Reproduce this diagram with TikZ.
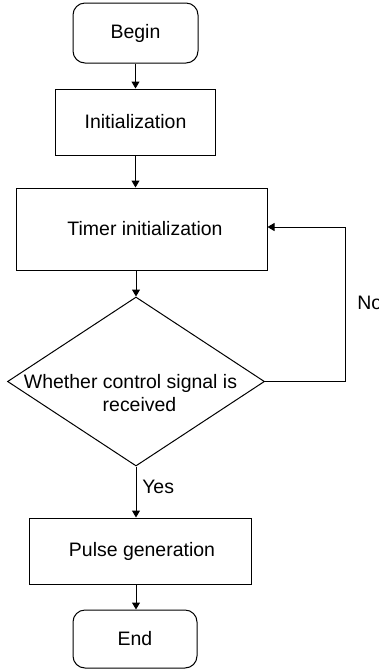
\documentclass[tikz,border=0pt]{standalone}
\usepackage{fontspec}
\setmainfont{Liberation Sans}
\usetikzlibrary{shapes.geometric,arrows.meta}
\newdimen\pxu
\pxu=0.75pt
\begin{document}
\begin{tikzpicture}[x=0.75pt,y=-0.75pt,
  every node/.style={font=\fontsize{14.6}{17.3}\selectfont, text=black},
  box/.style={draw=black, line width=0.75pt, inner sep=0pt},
  termbox/.style={box, rounded corners=9pt},
  decbox/.style={draw=black, line width=0.75pt, shape=diamond, inner sep=0pt},
  lbl/.style={inner sep=0pt},
  arr/.style={draw=black, line width=0.75pt, -{Triangle[length=5.25pt,width=6pt]}}
]
\useasboundingbox (0,0) rectangle (379,669);
\node[termbox, minimum width=125\pxu, minimum height=60\pxu] (begin) at (135.5,33) {Begin};
\node[box, minimum width=160\pxu, minimum height=66\pxu] (init) at (135.5,122) {Initialization};
\node[box, minimum width=251\pxu, minimum height=82\pxu] (timer) at (141.5,229) {\hspace*{7\pxu}Timer initialization};
\node[decbox, minimum width=257\pxu, minimum height=169\pxu] (dec) at (136,381.5) {};
\node[lbl, align=center] (dectext) at (139.5,393.5) {Whether control signal is\hspace*{18\pxu}\\received};
\node[box, minimum width=222\pxu, minimum height=66\pxu] (pulse) at (140,551) {\hspace*{4\pxu}Pulse generation};
\node[termbox, minimum width=124\pxu, minimum height=58\pxu] (end) at (135,639) {End};
\coordinate (nocorner) at (345,227);
\node[lbl, anchor=west] (nolbl) at (357,303) {No};
\node[lbl, anchor=west] (yeslbl) at (142,487) {Yes};
\draw[arr] (begin.south) -- (init.north);
\draw[arr] (init.south) -- (init.south |- timer.north);
\draw[arr] (dec.north |- timer.south) -- (dec.north);
\draw[arr] (dec.south) -- (dec.south |- pulse.north);
\draw[arr] (dec.south |- pulse.south) -- (dec.south |- end.north);
\draw[arr] (dec.east) -| (nocorner) -- (timer.east |- nocorner);
\end{tikzpicture}
\end{document}
